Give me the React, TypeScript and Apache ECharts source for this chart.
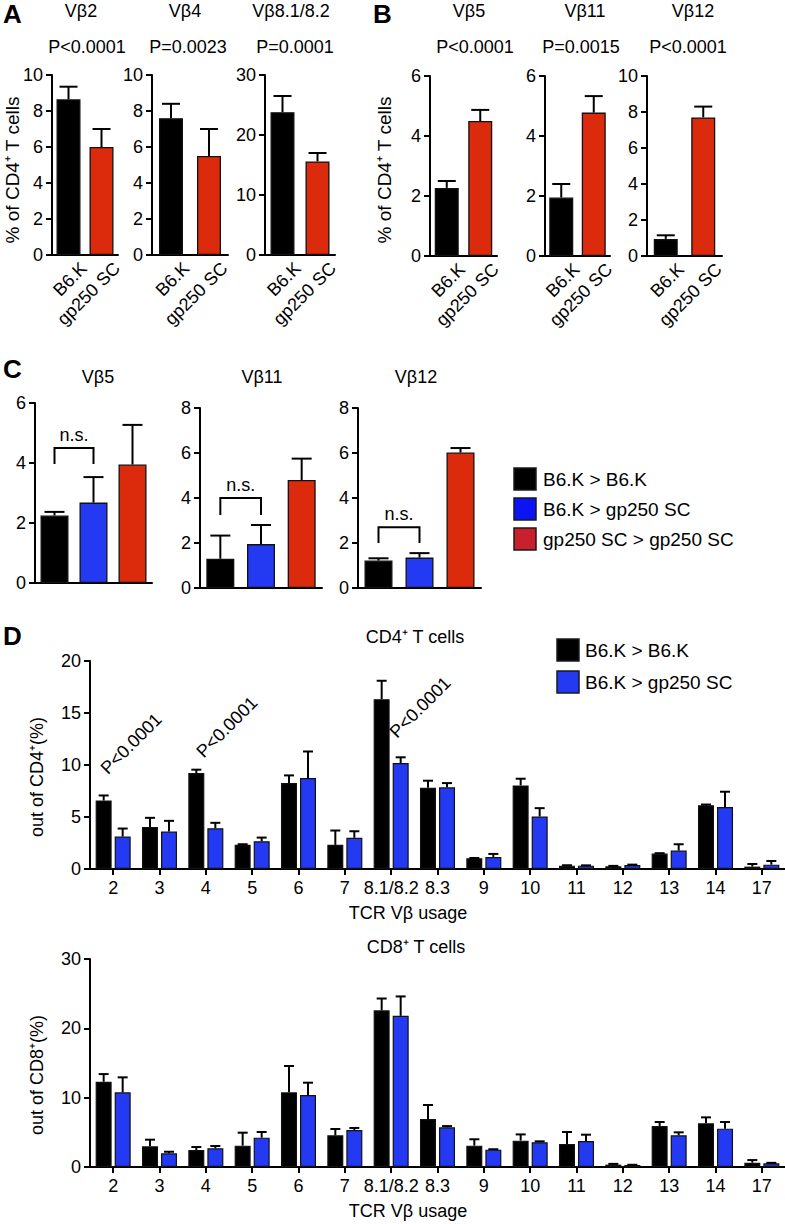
import React, { useEffect, useRef } from "react";
import * as echarts from "echarts";

const FONT = '"Liberation Sans", Arial, Helvetica, sans-serif';
const INK = "#000000";
const RED = "#dc2b0c";
const BLUE = "#2439f2";
const LEG_BLUE = "#0a14f5";
const LEG_RED = "#c8202c";

// ---------- Panel A ----------
const abGroups = ["B6.K", "gp250 SC"];
const aTitles = ["Vβ2", "Vβ4", "Vβ8.1/8.2"];
const aPValues = ["P<0.0001", "P=0.0023", "P=0.0001"];
const aB6K = [8.65, 7.6, 23.8];
const aB6KErr = [9.35, 8.4, 26.5];
const aGp250 = [6.0, 5.5, 15.6];
const aGp250Err = [7.0, 7.0, 17.0];
const aYMax = [10, 10, 30];
const aYStep = [2, 2, 10];

// ---------- Panel B ----------
const bTitles = ["Vβ5", "Vβ11", "Vβ12"];
const bPValues = ["P<0.0001", "P=0.0015", "P<0.0001"];
const bB6K = [2.27, 1.95, 0.95];
const bB6KErr = [2.5, 2.4, 1.15];
const bGp250 = [4.5, 4.78, 7.7];
const bGp250Err = [4.87, 5.33, 8.3];
const bYMax = [6, 6, 10];
const bYStep = [2, 2, 2];
const abYLabel = "% of CD4⁺ T cells";

// ---------- Panel C ----------
const cGroups = ["B6.K > B6.K", "B6.K > gp250 SC", "gp250 SC > gp250 SC"];
const cTitles = ["Vβ5", "Vβ11", "Vβ12"];
const cB6KtoB6K = [2.25, 1.3, 1.22];
const cB6KtoB6KErr = [2.37, 2.33, 1.32];
const cB6KtoGp = [2.68, 1.95, 1.35];
const cB6KtoGpErr = [3.53, 2.8, 1.55];
const cGpToGp = [3.95, 4.8, 6.02];
const cGpToGpErr = [5.27, 5.75, 6.22];
const cYMax = [6, 8, 8];
const cYStep = [2, 2, 2];
const cBracketTop = [4.5, 4.0, 2.7];
const cBracketFoot = [3.97, 3.24, 2.0];
const cBracketLabel = "n.s.";

// ---------- Panel D ----------
const dVbeta = ["2", "3", "4", "5", "6", "7", "8.1/8.2", "8.3", "9", "10", "11", "12", "13", "14", "17"];
const dGroups = ["B6.K > B6.K", "B6.K > gp250 SC"];
const cd4Black = [6.59, 4.05, 9.23, 2.32, 8.26, 2.32, 16.33, 7.81, 1.03, 8.04, 0.32, 0.26, 1.48, 6.14, 0.23];
const cd4BlackErr = [7.07, 4.92, 9.55, 2.38, 9.0, 3.7, 18.1, 8.49, 1.06, 8.68, 0.36, 0.3, 1.52, 6.2, 0.48];
const cd4Blue = [3.12, 3.6, 3.92, 2.67, 8.75, 3.0, 10.19, 7.85, 1.16, 5.05, 0.32, 0.39, 1.77, 5.95, 0.42];
const cd4BlueErr = [3.89, 4.63, 4.44, 3.02, 11.3, 3.63, 10.74, 8.26, 1.45, 5.85, 0.35, 0.42, 2.38, 7.43, 0.77];
const cd8Black = [12.3, 2.98, 2.45, 3.08, 10.77, 4.57, 22.6, 6.92, 3.08, 3.8, 3.32, 0.34, 5.91, 6.3, 0.62];
const cd8BlackErr = [13.4, 3.94, 2.88, 4.95, 14.57, 5.48, 24.3, 8.94, 4.0, 4.7, 5.05, 0.45, 6.49, 7.16, 1.0];
const cd8Blue = [10.77, 1.97, 2.7, 4.23, 10.38, 5.34, 21.8, 5.72, 2.5, 3.56, 3.75, 0.29, 4.57, 5.53, 0.53];
const cd8BlueErr = [12.93, 2.2, 3.03, 5.05, 12.16, 5.63, 24.6, 5.9, 2.56, 3.7, 4.66, 0.32, 5.0, 6.49, 0.6];
const cd4YMax = 20;
const cd4YStep = 5;
const cd8YMax = 30;
const cd8YStep = 10;
const dPCategories = [0, 2, 6];
const dPHeights = [8.8, 10.4, 12.3];
const dPLabel = "P<0.0001";

// ---------- layout (pixels, styling only) ----------
const layA = [
  { left: 52, top: 75, width: 66, height: 180 },
  { left: 152, top: 75, width: 76, height: 180 },
  { left: 265, top: 75, width: 70, height: 180 },
];
const layB = [
  { left: 430, top: 76, width: 67, height: 180 },
  { left: 545, top: 76, width: 65, height: 180 },
  { left: 647, top: 76, width: 75, height: 180 },
];
const layC = [
  { left: 35, top: 403, width: 117, height: 180 },
  { left: 200, top: 408, width: 122, height: 180 },
  { left: 358, top: 408, width: 123, height: 180 },
];
const layD4 = { left: 90, top: 661, width: 695, height: 208 };
const layD8 = { left: 90, top: 959, width: 695, height: 208 };
const dPShiftX = [-3, 0, 8];

function buildOption() {
  const grid: any[] = [];
  const xAxis: any[] = [];
  const yAxis: any[] = [];
  const series: any[] = [];
  const graphic: any[] = [];

  const axisLine = { show: true, lineStyle: { color: INK, width: 2 } };

  const addY = (gi: number, max: number, step: number, fs: number) => {
    yAxis.push({
      gridIndex: gi,
      type: "value",
      min: 0,
      max,
      interval: step,
      axisLine,
      axisTick: { show: true, length: 6, lineStyle: { color: INK, width: 2 } },
      splitLine: { show: false },
      axisLabel: { color: INK, fontSize: fs, fontFamily: FONT, margin: 9 },
    });
  };

  const errSeries = (gi: number, vals: number[], errs: number[], offset: number, cap: number) => ({
    type: "custom",
    xAxisIndex: gi,
    yAxisIndex: gi,
    z: 5,
    silent: true,
    data: vals.map((v, i) => [i, v, errs[i]]),
    renderItem: (_p: any, api: any) => {
      const base = api.coord([api.value(0), api.value(1)]);
      const top = api.coord([api.value(0), api.value(2)]);
      const x = base[0] + offset;
      return {
        type: "group",
        children: [
          { type: "line", shape: { x1: x, y1: base[1], x2: x, y2: top[1] }, style: { stroke: INK, lineWidth: 2 } },
          { type: "line", shape: { x1: x - cap, y1: top[1], x2: x + cap, y2: top[1] }, style: { stroke: INK, lineWidth: 2 } },
        ],
      };
    },
  });

  const addGroupPanel = (
    lay: any,
    cats: string[],
    vals: number[],
    errs: number[],
    colors: string[],
    max: number,
    step: number,
    showLabels: boolean,
    barWidth: number,
    cap: number
  ) => {
    const gi = grid.length;
    grid.push({ ...lay, containLabel: false, outerBoundsMode: "none" });
    xAxis.push({
      gridIndex: gi,
      type: "category",
      data: cats,
      axisLine,
      axisTick: { show: false },
      axisLabel: { show: false },
    });
    addY(gi, max, step, 18);
    series.push({
      type: "bar",
      xAxisIndex: gi,
      yAxisIndex: gi,
      barWidth,
      data: vals.map((v, i) => ({ value: v, itemStyle: { color: colors[i] } })),
      itemStyle: { borderColor: "#111", borderWidth: 1.3 },
    });
    series.push(errSeries(gi, vals, errs, 0, cap));
    if (showLabels) {
      // rotated category labels (text ends up-right, just right of the bar centre)
      series.push({
        type: "custom",
        xAxisIndex: gi,
        yAxisIndex: gi,
        z: 6,
        silent: true,
        clip: false,
        data: cats.map((_c, i) => [i, 0]),
        renderItem: (p: any, api: any) => {
          const pt = api.coord([api.value(0), api.value(1)]);
          return {
            type: "text",
            x: pt[0] + 9,
            y: pt[1] + 4,
            rotation: Math.PI / 4,
            style: {
              text: cats[p.dataIndex],
              fontSize: 18,
              fontFamily: FONT,
              fill: INK,
              align: "right",
              verticalAlign: "top",
            },
          };
        },
      });
    }
    return gi;
  };

  // Panel A
  for (let k = 0; k < 3; k++) {
    addGroupPanel(layA[k], abGroups, [aB6K[k], aGp250[k]], [aB6KErr[k], aGp250Err[k]], [INK, RED], aYMax[k], aYStep[k], true, 24, 9);
  }
  // Panel B
  for (let k = 0; k < 3; k++) {
    addGroupPanel(layB[k], abGroups, [bB6K[k], bGp250[k]], [bB6KErr[k], bGp250Err[k]], [INK, RED], bYMax[k], bYStep[k], true, 24, 9);
  }
  // Panel C
  for (let k = 0; k < 3; k++) {
    const gi = addGroupPanel(
      layC[k],
      cGroups,
      [cB6KtoB6K[k], cB6KtoGp[k], cGpToGp[k]],
      [cB6KtoB6KErr[k], cB6KtoGpErr[k], cGpToGpErr[k]],
      [INK, BLUE, RED],
      cYMax[k],
      cYStep[k],
      false,
      28,
      10
    );
    series.push({
      type: "custom",
      xAxisIndex: gi,
      yAxisIndex: gi,
      z: 6,
      silent: true,
      data: [[0, 1, cBracketTop[k], cBracketFoot[k]]],
      renderItem: (_p: any, api: any) => {
        const l = api.coord([api.value(0), api.value(2)]);
        const r = api.coord([api.value(1), api.value(2)]);
        const f = api.coord([api.value(0), api.value(3)]);
        return {
          type: "group",
          children: [
            {
              type: "polyline",
              shape: { points: [[l[0], f[1]], [l[0], l[1]], [r[0], r[1]], [r[0], f[1]]] },
              style: { stroke: INK, lineWidth: 2, fill: null },
            },
            {
              type: "text",
              x: (l[0] + r[0]) / 2,
              y: l[1] - 13,
              style: { text: cBracketLabel, fontSize: 18, fontFamily: FONT, fill: INK, align: "center", verticalAlign: "middle" },
            },
          ],
        };
      },
    });
  }

  // Panel D
  const addVbeta = (lay: any, black: number[], blackErr: number[], blue: number[], blueErr: number[], max: number, step: number) => {
    const gi = grid.length;
    grid.push({ ...lay, containLabel: false, outerBoundsMode: "none" });
    xAxis.push({
      gridIndex: gi,
      type: "category",
      data: dVbeta,
      axisLine,
      axisTick: { show: true, alignWithLabel: true, length: 6, lineStyle: { color: INK, width: 2 } },
      axisLabel: { show: true, interval: 0, color: INK, fontSize: 18, fontFamily: FONT, margin: 10 },
    });
    addY(gi, max, step, 18);
    series.push({
      type: "bar",
      name: dGroups[0],
      xAxisIndex: gi,
      yAxisIndex: gi,
      barWidth: 16,
      barGap: "19%",
      data: black,
      itemStyle: { color: INK, borderColor: "#111", borderWidth: 1.2 },
    });
    series.push({
      type: "bar",
      name: dGroups[1],
      xAxisIndex: gi,
      yAxisIndex: gi,
      barWidth: 16,
      barGap: "19%",
      data: blue,
      itemStyle: { color: BLUE, borderColor: "#111", borderWidth: 1.2 },
    });
    series.push(errSeries(gi, black, blackErr, -9.5, 5));
    series.push(errSeries(gi, blue, blueErr, 9.5, 5));
    return gi;
  };
  const g4 = addVbeta(layD4, cd4Black, cd4BlackErr, cd4Blue, cd4BlueErr, cd4YMax, cd4YStep);
  addVbeta(layD8, cd8Black, cd8BlackErr, cd8Blue, cd8BlueErr, cd8YMax, cd8YStep);
  series.push({
    type: "custom",
    xAxisIndex: g4,
    yAxisIndex: g4,
    z: 6,
    silent: true,
    data: dPCategories.map((c, i) => [c, dPHeights[i]]),
    renderItem: (p: any, api: any) => {
      const pt = api.coord([api.value(0), api.value(1)]);
      return {
        type: "text",
        x: pt[0] + dPShiftX[p.dataIndex],
        y: pt[1],
        rotation: Math.PI / 4,
        style: { text: dPLabel, fontSize: 18, fontFamily: FONT, fill: INK, align: "left", verticalAlign: "bottom" },
      };
    },
  });

  // ---------- texts ----------
  const txt = (text: string, x: number, y: number, fs: number, extra: any = {}) => {
    graphic.push({
      type: "text",
      x,
      y,
      rotation: extra.rotation || 0,
      silent: true,
      style: {
        text,
        fontSize: fs,
        fontFamily: FONT,
        fontWeight: extra.bold ? "bold" : "normal",
        fill: INK,
        align: extra.align || "center",
        verticalAlign: "middle",
      },
    });
  };
  // panel letters
  txt("A", 3, 14, 26, { bold: true, align: "left" });
  txt("B", 373, 14, 26, { bold: true, align: "left" });
  txt("C", 3, 369, 26, { bold: true, align: "left" });
  txt("D", 3, 636, 26, { bold: true, align: "left" });

  const aTitleX = [81, 185, 291];
  const aPX = [87, 188, 295];
  const bTitleX = [469, 585, 693];
  const bPX = [475, 581, 688];
  aTitles.forEach((t, i) => txt(t, aTitleX[i], 11, 18));
  aPValues.forEach((t, i) => txt(t, aPX[i], 47, 18));
  bTitles.forEach((t, i) => txt(t, bTitleX[i], 11, 18));
  bPValues.forEach((t, i) => txt(t, bPX[i], 47, 18));
  txt(abYLabel, 12, 170, 19, { rotation: Math.PI / 2 });
  txt(abYLabel, 384, 170, 19, { rotation: Math.PI / 2 });

  const cTitleX = [98, 262, 416];
  cTitles.forEach((t, i) => txt(t, cTitleX[i], 377, 18));

  // legend C
  const cLegFill = [INK, LEG_BLUE, LEG_RED];
  const cLegY = [479, 509, 539];
  cGroups.forEach((g, i) => {
    graphic.push({
      type: "rect",
      shape: { x: 514, y: cLegY[i] - 11, width: 22, height: 22 },
      style: { fill: cLegFill[i], stroke: "#1a1a1a", lineWidth: 1.5 },
      silent: true,
    });
    txt(g, 543, cLegY[i], 19, { align: "left" });
  });

  // panel D texts
  txt("CD4⁺ T cells", 415, 637, 18);
  txt("TCR Vβ usage", 408, 913, 18);
  txt("CD8⁺ T cells", 416, 947, 18);
  txt("TCR Vβ usage", 408, 1211, 18);
  txt("out of CD4⁺(%)", 37, 777, 18, { rotation: Math.PI / 2 });
  txt("out of CD8⁺(%)", 37, 1075, 18, { rotation: Math.PI / 2 });

  const dLegFill = [INK, BLUE];
  const dLegY = [650, 682];
  dGroups.forEach((g, i) => {
    graphic.push({
      type: "rect",
      shape: { x: 557, y: dLegY[i] - 11, width: 22, height: 22 },
      style: { fill: dLegFill[i], stroke: "#1a1a1a", lineWidth: 1.5 },
      silent: true,
    });
    txt(g, 585, dLegY[i], 19, { align: "left" });
  });

  return {
    animation: false,
    backgroundColor: "#ffffff",
    textStyle: { fontFamily: FONT, color: INK },
    grid,
    xAxis,
    yAxis,
    series,
    graphic,
  };
}

export default function App() {
  const ref = useRef<HTMLDivElement>(null);
  useEffect(() => {
    if (!ref.current) return;
    const chart = echarts.init(ref.current, null, { renderer: "svg" });
    chart.setOption(buildOption() as any);
    return () => chart.dispose();
  }, []);
  return (
    <div
      ref={ref}
      style={{ position: "absolute", left: 0, top: 0, width: 785, height: 1224, background: "#fff" }}
    />
  );
}
